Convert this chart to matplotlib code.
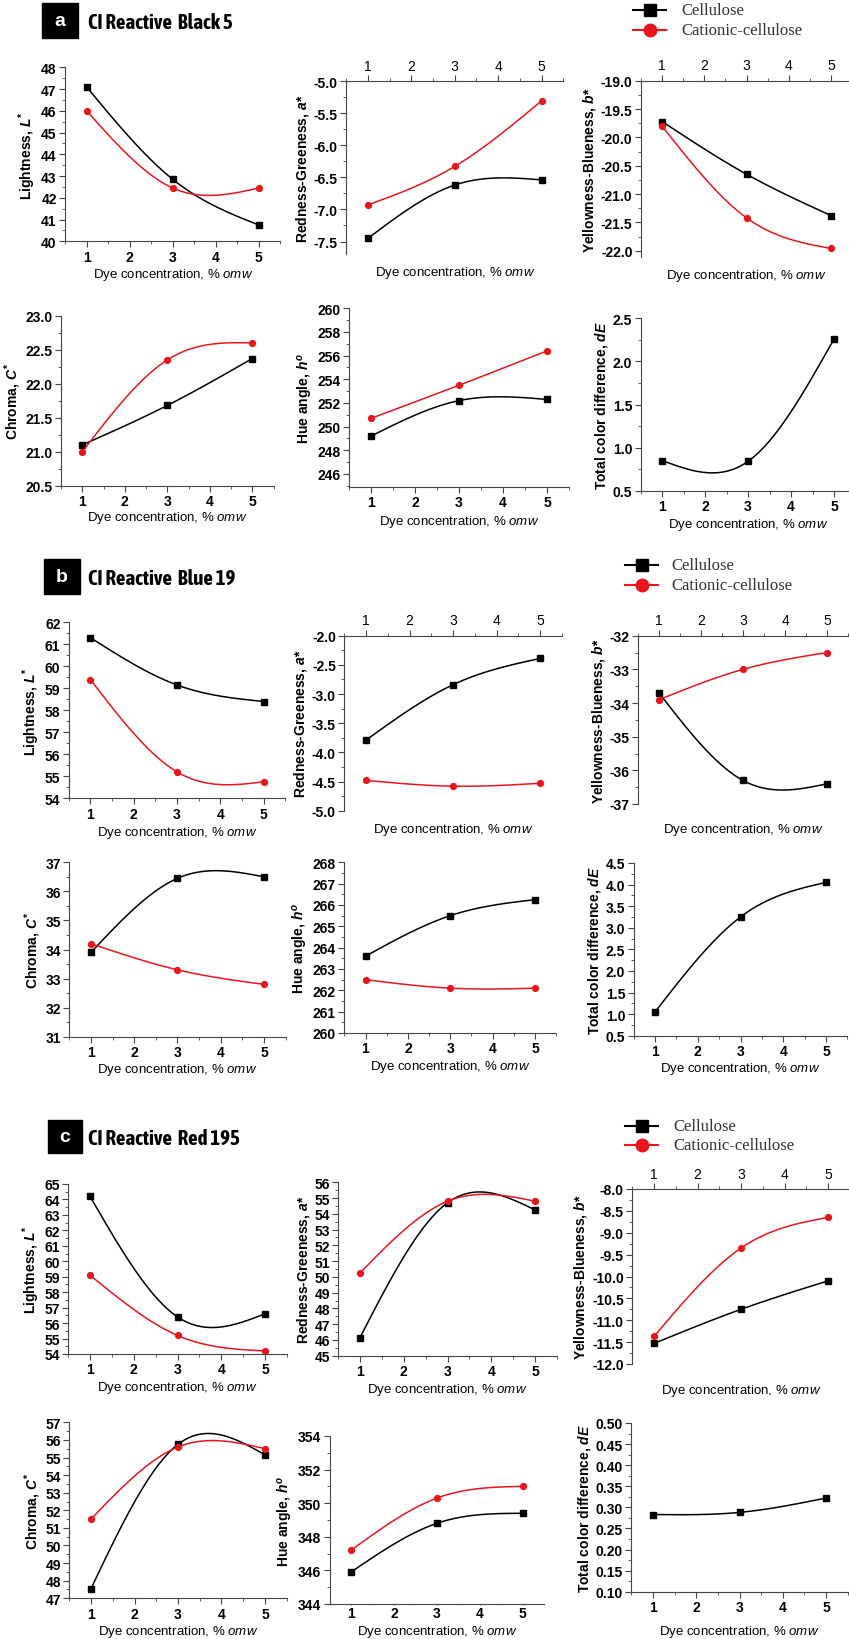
import numpy as np
import matplotlib
matplotlib.use("Agg")
import matplotlib.pyplot as plt
from matplotlib import font_manager as fm
from matplotlib.ticker import MultipleLocator, FormatStrFormatter
from matplotlib.lines import Line2D
from matplotlib.patches import Rectangle

# ---------------- data ----------------
conc = [1, 3, 5]

# (a) CI Reactive Black 5
a_L_cell = [47.1, 42.85, 40.75]
a_L_cat = [46.0, 42.45, 42.45]
a_a_cell = [-7.45, -6.62, -6.54]
a_a_cat = [-6.93, -6.33, -5.31]
a_b_cell = [-19.72, -20.65, -21.38]
a_b_cat = [-19.80, -21.42, -21.96]
a_C_cell = [21.10, 21.68, 22.37]
a_C_cat = [21.00, 22.35, 22.60]
a_h_cell = [249.2, 252.2, 252.3]
a_h_cat = [250.7, 253.5, 256.4]
a_dE = [0.85, 0.84, 2.26]

# (b) CI Reactive Blue 19
b_L_cell = [61.3, 59.15, 58.4]
b_L_cat = [59.4, 55.2, 54.75]
b_a_cell = [-3.79, -2.84, -2.39]
b_a_cat = [-4.48, -4.58, -4.53]
b_b_cell = [-33.7, -36.3, -36.4]
b_b_cat = [-33.9, -33.0, -32.5]
b_C_cell = [33.9, 36.45, 36.5]
b_C_cat = [34.2, 33.3, 32.8]
b_h_cell = [263.6, 265.5, 266.25]
b_h_cat = [262.5, 262.1, 262.1]
b_dE = [1.05, 3.25, 4.05]

# (c) CI Reactive Red 195
c_L_cell = [64.2, 56.4, 56.6]
c_L_cat = [59.1, 55.2, 54.2]
c_a_cell = [46.15, 54.7, 54.25]
c_a_cat = [50.25, 54.8, 54.8]
c_b_cell = [-11.53, -10.75, -10.10]
c_b_cat = [-11.37, -9.35, -8.65]
c_C_cell = [47.55, 55.75, 55.15]
c_C_cat = [51.5, 55.6, 55.5]
c_h_cell = [345.9, 348.8, 349.4]
c_h_cat = [347.2, 350.3, 351.0]
c_dE = [0.283, 0.288, 0.322]

titles = ["CI Reactive  Black 5", "CI Reactive  Blue 19", "CI Reactive  Red 195"]
letters = ["a", "b", "c"]
legend_labels = ["Cellulose", "Cationic-cellulose"]

lab_L = r"Lightness, $L^{*}$"
lab_a = r"Redness-Greeness, $a$*"
lab_b = r"Yellowness-Blueness, $b$*"
lab_C = r"Chroma, $C^{*}$"
lab_h = r"Hue angle, $h^{o}$"
lab_dE = r"Total color difference, $dE$"
xlab = r"Dye concentration, % $\mathsf{omw}$"

# ---------------- style ----------------
W, H = 849, 1640
plt.rcParams["font.family"] = ["Liberation Sans", "DejaVu Sans"]
plt.rcParams["mathtext.fontset"] = "custom"
plt.rcParams["mathtext.it"] = "Liberation Sans:italic:bold"
plt.rcParams["mathtext.rm"] = "Liberation Sans:bold"
plt.rcParams["mathtext.sf"] = "Liberation Sans:italic"
plt.rcParams["axes.linewidth"] = 0.8

RED = "#e8161b"
GREY = "#444444"

# condensed bold face for the panel titles, if one is installed
narrow = [f for f in fm.fontManager.ttflist
          if ("Narrow" in f.name or "Condensed" in f.name or "condensed" in str(f.stretch))
          and f.weight in ("bold", 700) and f.style == "normal"]
narrow.sort(key=lambda f: (("Serif" in f.name), f.name))
if narrow:
    title_font = dict(fontproperties=fm.FontProperties(fname=narrow[0].fname, size=15))
else:
    title_font = dict(fontsize=11.5, fontweight="bold")

fig = plt.figure(figsize=(W / 100, H / 100), dpi=100)


def natural_spline(xs, ys, n=200):
    xs = np.asarray(xs, float)
    ys = np.asarray(ys, float)
    k = len(xs)
    h = np.diff(xs)
    A = np.zeros((k, k))
    r = np.zeros(k)
    A[0, 0] = A[-1, -1] = 1
    for i in range(1, k - 1):
        A[i, i - 1] = h[i - 1]
        A[i, i] = 2 * (h[i - 1] + h[i])
        A[i, i + 1] = h[i]
        r[i] = 6 * ((ys[i + 1] - ys[i]) / h[i] - (ys[i] - ys[i - 1]) / h[i - 1])
    M = np.linalg.solve(A, r)
    xx = np.linspace(xs[0], xs[-1], n)
    yy = np.empty_like(xx)
    for j, x in enumerate(xx):
        i = min(np.searchsorted(xs, x, side="right") - 1, k - 2)
        a, b = xs[i], xs[i + 1]
        hi = b - a
        yy[j] = (M[i] * (b - x) ** 3 / (6 * hi) + M[i + 1] * (x - a) ** 3 / (6 * hi)
                 + (ys[i] / hi - M[i] * hi / 6) * (b - x)
                 + (ys[i + 1] / hi - M[i + 1] * hi / 6) * (x - a))
    return xx, yy


def add_panel(lay, ylim, ystep, fmt, ylabel, cell, cat=None, top=False,
              xlab_y=None, xtick_len=4, xpad=2):
    x1p, x5p, vt, pt, vb, pb = lay
    unit = (x5p - x1p) / 4
    left = x1p - 0.5 * unit
    width = 5 * unit
    ppv = (pb - pt) / (vt - vb)
    ytop = pt - (ylim[1] - vt) * ppv
    ybot = pb + (vb - ylim[0]) * ppv
    ax = fig.add_axes([left / W, 1 - ybot / H, width / W, (ybot - ytop) / H])

    xs, ys = natural_spline(conc, cell)
    ax.plot(xs, ys, color="black", lw=1.1)
    ax.plot(conc, cell, ls="none", marker="s", ms=4, color="black", clip_on=False)
    if cat is not None:
        xs, ys = natural_spline(conc, cat)
        ax.plot(xs, ys, color=RED, lw=1.1)
        ax.plot(conc, cat, ls="none", marker="o", ms=4.2, color=RED, clip_on=False)

    ax.set_xlim(0.5, 5.5)
    ax.set_ylim(*ylim)
    ax.set_xticks([1, 2, 3, 4, 5])
    ax.xaxis.set_minor_locator(MultipleLocator(0.5))
    ax.yaxis.set_major_locator(MultipleLocator(ystep))
    ax.yaxis.set_minor_locator(MultipleLocator(ystep / 2))
    ax.yaxis.set_major_formatter(FormatStrFormatter(fmt))
    ax.tick_params(which="major", direction="out", length=4, width=0.8,
                   labelsize=10, pad=2, color=GREY)
    ax.tick_params(which="minor", direction="out", length=2, width=0.6, color=GREY)
    ax.tick_params(axis="x", which="major", length=xtick_len, pad=xpad)
    ax.tick_params(axis="x", which="minor", length=xtick_len / 2)
    for lbl in ax.get_xticklabels() + ax.get_yticklabels():
        lbl.set_fontweight("bold")
    ax.spines["right"].set_visible(False)
    if top:
        ax.xaxis.tick_top()
        ax.spines["bottom"].set_visible(False)
    else:
        ax.spines["top"].set_visible(False)
    for s in ax.spines.values():
        s.set_color(GREY)
    ax.patch.set_alpha(0)
    ax.set_ylabel(ylabel, fontsize=10, fontweight="bold", labelpad=2)
    cx = (left + width / 2) / W
    fig.text(cx, 1 - xlab_y / H, xlab, fontsize=9.5, ha="center", va="center")
    return ax


# ---------------- panels ----------------
# row a
add_panel((86.6, 258.8, 48, 68.3, 40, 242.3), (40, 48), 1, "%d", lab_L, a_L_cell, a_L_cat, xlab_y=275)
add_panel((368, 541.5, -5.0, 82, -7.5, 242.5), (-7.69, -5.0), 0.5, "%.1f", lab_a, a_a_cell, a_a_cat, top=True, xlab_y=273)
add_panel((662, 831, -19.0, 81.7, -22.0, 251.7), (-22.11, -19.0), 0.5, "%.1f", lab_b, a_b_cell, a_b_cat, top=True, xlab_y=276)
add_panel((82.3, 252.3, 23.0, 316.7, 20.5, 486.7), (20.5, 23.0), 0.5, "%.1f", lab_C, a_C_cell, a_C_cat, xlab_y=518)
add_panel((371, 547, 260, 309.3, 246, 475), (244.9, 260), 2, "%d", lab_h, a_h_cell, a_h_cat, xlab_y=522)
add_panel((662, 834, 2.5, 319.3, 0.5, 491.7), (0.5, 2.5), 0.5, "%.1f", lab_dE, a_dE, xlab_y=525)

# row b
add_panel((90.4, 263.7, 62, 623.3, 54, 799.3), (54, 62), 1, "%d", lab_L, b_L_cell, b_L_cat, xlab_y=833)
add_panel((366, 540, -2.0, 636.7, -5.0, 811.7), (-5.0, -2.0), 0.5, "%.1f", lab_a, b_a_cell, b_a_cat, top=True, xlab_y=830)
add_panel((659, 827, -32, 636.7, -37, 805), (-37, -32), 1, "%d", lab_b, b_b_cell, b_b_cat, top=True, xlab_y=830)
add_panel((91, 264, 37, 863.3, 31, 1037.7), (31, 37), 1, "%d", lab_C, b_C_cell, b_C_cat, xlab_y=1070)
add_panel((365.5, 535, 268, 863.3, 260, 1034), (260, 268), 1, "%d", lab_h, b_h_cell, b_h_cat, xlab_y=1067)
add_panel((655, 826, 4.5, 864, 0.5, 1036.7), (0.5, 4.5), 0.5, "%.1f", lab_dE, b_dE, xlab_y=1069)

# row c
add_panel((90, 265, 65, 1185, 54, 1355), (54, 65), 1, "%d", lab_L, c_L_cell, c_L_cat, xlab_y=1388)
add_panel((360, 535, 56, 1183.3, 45, 1356.7), (45, 56), 1, "%d", lab_a, c_a_cell, c_a_cat, xlab_y=1390)
add_panel((654, 828, -8.0, 1190, -12.0, 1365), (-12.0, -8.0), 0.5, "%.1f", lab_b, c_b_cell, c_b_cat, top=True, xlab_y=1391)
add_panel((91, 265, 57, 1423.3, 47, 1599.3), (47, 57), 1, "%d", lab_C, c_C_cell, c_C_cat, xlab_y=1632)
add_panel((351, 522.5, 354, 1437, 344, 1605), (344, 354), 2, "%d", lab_h, c_h_cell, c_h_cat,
          xlab_y=1632, xtick_len=1, xpad=0.5)
add_panel((653, 826, 0.50, 1424, 0.10, 1592.7), (0.10, 0.50), 0.05, "%.2f", lab_dE, c_dE, xlab_y=1632)

# ---------------- headers and legends ----------------
headers = [
    # box x0, x1, y0, y1, title y, legend y1, legend y2, line x0, line x1, text x
    (42, 78, 4, 39, 23, 11, 31, 633, 666, 681),
    (44, 80, 560, 595, 579, 566, 586, 625, 658, 671),
    (48, 82, 1121, 1154, 1139, 1127, 1146, 625, 658, 673),
]
for (bx0, bx1, by0, by1, ty, ly1, ly2, lx0, lx1, tx), letter, title in zip(headers, letters, titles):
    fig.add_artist(Rectangle((bx0 / W, 1 - by1 / H), (bx1 - bx0) / W, (by1 - by0) / H,
                             transform=fig.transFigure, color="black"))
    fig.text((bx0 + bx1) / 2 / W, 1 - (by0 + by1) / 2 / H, letter, color="white",
             fontsize=14, fontweight="bold", ha="center", va="center")
    fig.text(88 / W, 1 - ty / H, title, ha="left", va="center", **title_font)
    for ly, col, mk, ms in [(ly1, "black", "s", 8), (ly2, RED, "o", 9)]:
        xm = (lx0 + lx1) / 2
        fig.add_artist(Line2D([lx0 / W, xm / W, lx1 / W], [1 - ly / H] * 3,
                              transform=fig.transFigure, color=col, lw=1.5,
                              marker=mk, markersize=ms, markevery=[1]))
    fig.text(tx / W, 1 - ly1 / H, legend_labels[0], fontsize=12, color="#333333",
             family="Liberation Serif", ha="left", va="center")
    fig.text(tx / W, 1 - ly2 / H, legend_labels[1], fontsize=12, color="#333333",
             family="Liberation Serif", ha="left", va="center")

fig.savefig("out.png", dpi=100, facecolor="white")
